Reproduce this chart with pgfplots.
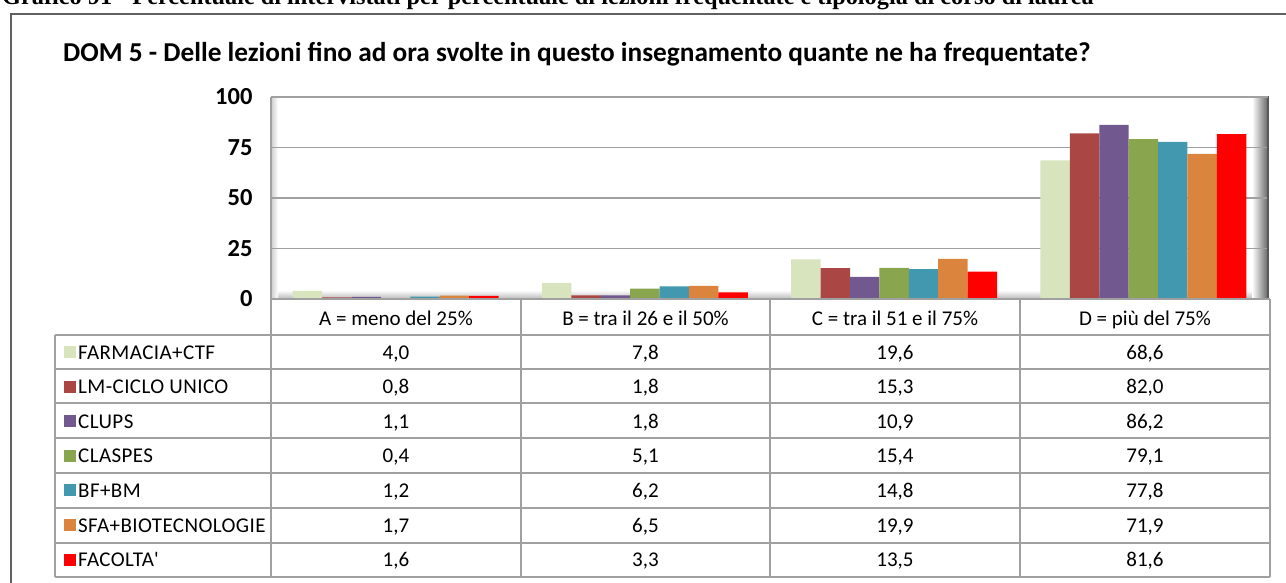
\documentclass[border=0pt]{standalone}
\usepackage{fontspec}
\setmainfont{Carlito}
\newfontfamily\tnr{Liberation Serif}
\usepackage{pgfplots}
\pgfplotsset{compat=1.18}
\definecolor{c1}{HTML}{D7E4BD}
\definecolor{c2}{HTML}{AA4643}
\definecolor{c3}{HTML}{71588F}
\definecolor{c4}{HTML}{89A54E}
\definecolor{c5}{HTML}{4198AF}
\definecolor{c6}{HTML}{DB843D}
\definecolor{c7}{HTML}{FF0000}
\definecolor{tline}{HTML}{A0A0A0}
\begin{document}
\begin{tikzpicture}[x=1pt,y=1pt]
\useasboundingbox (0,0) rectangle (1286,-583);
\clip (0,0) rectangle (1286,-583);
% header (cut off)
\node[anchor=base west,inner sep=0pt,font=\tnr\bfseries\fontsize{24.3}{24}\selectfont] at (2,-4.5) {Grafico 91 - Percentuale di intervistati per percentuale di lezioni frequentate e tipologia di corso di laurea};
% outer box
\draw[gray!75!black,line width=2.5pt] (11,-600) -- (11,-14) -- (1300,-14);
% title
\node[anchor=base west,inner sep=0pt,font=\bfseries\fontsize{27.3}{27}\selectfont] at (63,-62) {DOM 5 - Delle lezioni fino ad ora svolte in questo insegnamento quante ne ha frequentate?};
% floor and walls
\shade[top color=gray!5,bottom color=gray!55] (271,-291) -- (1262,-291) -- (1268,-299) -- (271,-299) -- cycle;
\shade[left color=white,right color=gray!80!black] (1252,-97) rectangle (1268,-299);
\shade[left color=gray!40,right color=white] (271,-97) rectangle (278,-299);
\begin{axis}[
  at={(271pt,-299pt)}, anchor=south west,
  scale only axis, width=997pt, height=202pt,
  xmin=-0.5, xmax=3.5, ymin=0, ymax=100,
  ytick={0,25,50,75,100}, xtick=\empty,
  ymajorgrids, grid style={tline,line width=1.4pt},
  axis line style={draw=none}, major tick length=0pt,
  /pgf/number format/assume math mode=true,
  yticklabel style={font=\bfseries\fontsize{24.5}{24}\selectfont, xshift=-15pt},
  ybar=0pt, bar width=29.4pt,
  clip=false,
]
\addplot[fill=c1,draw=none] coordinates {(0,4.0) (1,7.8) (2,19.6) (3,68.6)};
\addplot[fill=c2,draw=none] coordinates {(0,0.8) (1,1.8) (2,15.3) (3,82.0)};
\addplot[fill=c3,draw=none] coordinates {(0,1.1) (1,1.8) (2,10.9) (3,86.2)};
\addplot[fill=c4,draw=none] coordinates {(0,0.4) (1,5.1) (2,15.4) (3,79.1)};
\addplot[fill=c5,draw=none] coordinates {(0,1.2) (1,6.2) (2,14.8) (3,77.8)};
\addplot[fill=c6,draw=none] coordinates {(0,1.7) (1,6.5) (2,19.9) (3,71.9)};
\addplot[fill=c7,draw=none] coordinates {(0,1.6) (1,3.3) (2,13.5) (3,81.6)};
\end{axis}
\draw[gray!70!black,line width=2pt] (1268,-96) -- (1268,-299);
\draw[tline,line width=1.4pt] (271,-97) -- (1268,-97);
\draw[tline,line width=1.4pt] (271,-97) -- (271,-299);
% table
\begin{scope}[tline,line width=1.5pt]
\draw (271,-299) -- (1270,-299);
\foreach \x in {271,521,770,1020,1270} \draw (\x,-299) -- (\x,-577);
\foreach \y in {335,369,403,438,473,508,543,577} \draw (55,-\y) -- (1270,-\y);
\draw (55,-335) -- (55,-577);
\end{scope}
\begin{scope}[every node/.style={anchor=base,inner sep=0pt,font=\fontsize{21}{21}\selectfont}]
\node at (396,-325) {A = meno del 25\%};
\node at (645.5,-325) {B = tra il 26 e il 50\%};
\node at (895,-325) {C = tra il 51 e il 75\%};
\node at (1145,-325) {D = più del 75\%};
\foreach \c/\lab/\a/\b/\cc/\d [count=\i] in {
  {c1/FARMACIA+CTF/4,0/7,8/19,6/68,6},
  {c2/LM-CICLO UNICO/0,8/1,8/15,3/82,0},
  {c3/CLUPS/1,1/1,8/10,9/86,2},
  {c4/CLASPES/0,4/5,1/15,4/79,1},
  {c5/BF+BM/1,2/6,2/14,8/77,8},
  {c6/SFA+BIOTECNOLOGIE/1,7/6,5/19,9/71,9},
  {c7/FACOLTA\textquotesingle/1,6/3,3/13,5/81,6}} {
  \pgfmathsetmacro\yc{-352-34.6*(\i-1)}
  \pgfmathsetmacro\yb{\yc-7}
  \fill[\c] (64,\yc-6) rectangle (76,\yc+6);
  \node[anchor=base west,font=\fontsize{21}{21}\selectfont\addfontfeatures{LetterSpace=2}] at (78,\yb) {\lab};
  \node at (396,\yb) {\a};
  \node at (645.5,\yb) {\b};
  \node at (895,\yb) {\cc};
  \node at (1145,\yb) {\d};
}
\end{scope}
\end{tikzpicture}
\end{document}
